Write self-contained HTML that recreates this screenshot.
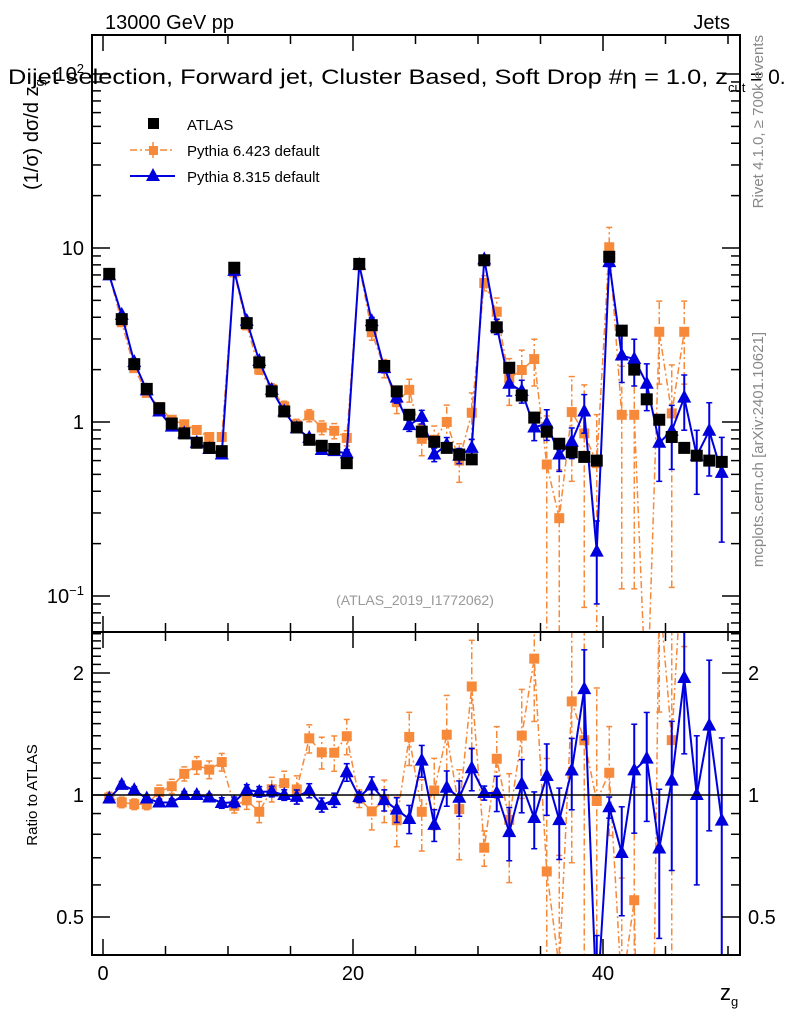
<!DOCTYPE html>
<html><head><meta charset="utf-8"><style>
html,body{margin:0;padding:0;background:#fff;width:786px;height:1024px;overflow:hidden}
svg{display:block}
svg text{font-family:"Liberation Sans",sans-serif}
</style></head><body>
<svg id="c" width="786" height="1024" xmlns="http://www.w3.org/2000/svg"></svg>
<script>
const binCenters=[0.5,1.5,2.5,3.5,4.5,5.5,6.5,7.5,8.5,9.5,10.5,11.5,12.5,13.5,14.5,15.5,16.5,17.5,18.5,19.5,20.5,21.5,22.5,23.5,24.5,25.5,26.5,27.5,28.5,29.5,30.5,31.5,32.5,33.5,34.5,35.5,36.5,37.5,38.5,39.5,40.5,41.5,42.5,43.5,44.5,45.5,46.5,47.5,48.5,49.5];
const atlas=[7.1,3.9,2.15,1.55,1.2,0.98,0.86,0.76,0.71,0.68,7.7,3.7,2.2,1.5,1.15,0.93,0.79,0.73,0.70,0.58,8.1,3.6,2.1,1.5,1.1,0.88,0.77,0.71,0.65,0.61,8.5,3.5,2.05,1.42,1.06,0.88,0.75,0.67,0.63,0.60,8.9,3.35,2.0,1.35,1.03,0.82,0.71,0.64,0.60,0.59];
const py8=[6.96,4.13,2.21,1.52,1.15,0.94,0.86,0.76,0.70,0.65,7.39,3.81,2.24,1.53,1.15,0.92,0.81,0.69,0.68,0.66,8.0,3.8,2.04,1.38,0.96,1.07,0.65,0.74,0.64,0.71,8.6,3.54,1.66,1.51,0.93,0.98,0.65,0.77,1.15,0.18,8.3,2.41,2.3,1.66,0.76,0.89,1.38,0.64,0.89,0.51];
const py6=[7.0,3.74,2.04,1.47,1.22,1.03,0.97,0.90,0.82,0.82,7.24,3.59,2.0,1.55,1.23,0.96,1.09,0.93,0.89,0.81,7.94,3.28,2.04,1.3,1.53,0.80,0.79,1.0,0.6,1.13,6.3,4.3,1.78,1.99,2.3,0.57,0.28,1.14,0.86,0.58,10.1,1.1,1.1,0.02,3.3,1.12,3.3,null,null,null];
const py8Err=[0.02,0.02,0.02,0.02,0.02,0.02,0.02,0.02,0.02,0.03,0.03,0.03,0.03,0.03,0.03,0.04,0.04,0.04,0.04,0.05,0.03,0.05,0.06,0.07,0.08,0.09,0.09,0.1,0.1,0.12,0.04,0.1,0.15,0.15,0.16,0.2,0.2,0.2,0.25,0.5,0.06,0.3,0.3,0.3,0.4,0.4,0.35,0.4,0.45,0.6];
const py6Err=[0.03,0.03,0.03,0.03,0.04,0.04,0.04,0.05,0.05,0.05,0.04,0.05,0.06,0.07,0.07,0.08,0.08,0.09,0.1,0.1,0.05,0.1,0.12,0.14,0.15,0.2,0.2,0.25,0.25,0.3,0.1,0.2,0.3,0.3,0.3,0.9,0.9,0.6,0.9,0.9,0.3,0.9,0.9,0.9,0.5,0.9,0.5,0,0,0];
const xTicks=[0,20,40];
const yTicks=[{v:10,l:"10"},{v:1,l:"1"}];
const rTicks=[{v:2,l:"2"},{v:1,l:"1"},{v:0.5,l:"0.5"}];

const S=document.getElementById('c');const NS='http://www.w3.org/2000/svg';
const L=92,R=740,T=35,M=632,B=955;
const X=v=>103+12.5*v;
const Y=v=>422-174*Math.log10(v);
const YR=v=>795-122*Math.log2(v);
function el(t,a,p){const e=document.createElementNS(NS,t);for(const k in a)e.setAttribute(k,a[k]);(p||S).appendChild(e);return e;}
const defs=el('defs',{});
const c1=el('clipPath',{id:'cm'},defs);el('rect',{x:L,y:T,width:R-L,height:M-T},c1);
const c2=el('clipPath',{id:'cr'},defs);el('rect',{x:L,y:M,width:R-L,height:B-M},c2);
const gm=el('g',{'clip-path':'url(#cm)'});
const gr=el('g',{'clip-path':'url(#cr)'});
const f1=el('rect',{x:L,y:T,width:R-L,height:M-T,fill:'none',stroke:'#000','stroke-width':2});

const f2=el('rect',{x:L,y:M,width:R-L,height:B-M,fill:'none',stroke:'#000','stroke-width':2});

for(let v=0;v<=50;v+=5){const big=v%20==0;const len=big?16:9;
 for(const [yb,yt] of [[M,T],[B,M]]){el('line',{x1:X(v),x2:X(v),y1:yb,y2:yb-len,stroke:'#000','stroke-width':1.5});el('line',{x1:X(v),x2:X(v),y1:yt,y2:yt+len,stroke:'#000','stroke-width':1.5});}}
xTicks.forEach(v=>{const t=el('text',{x:X(v),y:980,'font-size':20,'text-anchor':'middle'});t.textContent=v;
});
for(let d=-2;d<=2;d++)for(let m=1;m<10;m++){const v=m*Math.pow(10,d);const y=Y(v);if(y<T||y>M)continue;const len=m==1?18:9;
 el('line',{x1:L,x2:L+len,y1:y,y2:y,stroke:'#000','stroke-width':1.5});el('line',{x1:R,x2:R-len,y1:y,y2:y,stroke:'#000','stroke-width':1.5});}
yTicks.forEach(t=>{const e=el('text',{x:84,y:Y(t.v)+7,'font-size':20,'text-anchor':'end'});e.textContent=t.l;
});
let e=el('text',{x:84,y:Y(0.1)+7,'font-size':20,'text-anchor':'end'});e.innerHTML='10<tspan dy="-8" font-size="13">−1</tspan>';

e=el('text',{x:84,y:Y(100)+7,'font-size':20,'text-anchor':'end'});e.innerHTML='10<tspan dy="-8" font-size="13">2</tspan>';

for(let v=0.4;v<=2.55;v+=0.1){const y=YR(v);if(y<M||y>B)continue;const big=[0.5,1,2].some(q=>Math.abs(q-v)<1e-6);const len=big?18:9;
 el('line',{x1:L,x2:L+len,y1:y,y2:y,stroke:'#000','stroke-width':1.5});el('line',{x1:R,x2:R-len,y1:y,y2:y,stroke:'#000','stroke-width':1.5});}
rTicks.forEach(t=>{for(const [x,a] of [[84,'end'],[748,'start']]){const e=el('text',{x:x,y:YR(t.v)+7,'font-size':20,'text-anchor':a});e.textContent=t.l;
}});
el('line',{x1:L,x2:R,y1:YR(1),y2:YR(1),stroke:'#000','stroke-width':1.5});
function series(g,vals,errs,ratio,color,dash,marker,name){
 const pts=[];binCenters.forEach((c,i)=>{let v=vals[i];if(v==null)return;let r=ratio?v/atlas[i]:v;pts.push([X(c),ratio?YR(r):Y(r),r,errs[i]]);});
 const pl=el('polyline',{points:pts.map(p=>p[0]+','+p[1]).join(' '),fill:'none',stroke:color,'stroke-width':dash?1.5:2,'stroke-dasharray':dash||''},g);
 
 const F=ratio?YR:Y;
 pts.forEach(p=>{const lo=Math.max(p[2]*(1-p[3]),1e-3),hi=p[2]*(1+p[3]);const y1=F(lo),y2=F(hi);
  const eb=el('line',{x1:p[0],x2:p[0],y1:y1,y2:y2,stroke:color,'stroke-width':dash?1.5:2,'stroke-dasharray':dash||''},g);
  
  el('line',{x1:p[0]-3,x2:p[0]+3,y1:y1,y2:y1,stroke:color,'stroke-width':1.5},g);el('line',{x1:p[0]-3,x2:p[0]+3,y1:y2,y2:y2,stroke:color,'stroke-width':1.5},g);
  let m;if(marker=='sq'){m=el('rect',{x:p[0]-5,y:p[1]-5,width:10,height:10,fill:color},g);}
  else{m=el('polygon',{points:`${p[0]},${p[1]-8} ${p[0]-7},${p[1]+5} ${p[0]+7},${p[1]+5}`,fill:color},g);}
  });
}
series(gm,py6,py6Err,false,'#f7893a','7,3,2,3','sq','pythia6');
series(gm,py8,py8Err,false,'#0000dd',null,'tri','pythia8');
binCenters.forEach((c,i)=>{const m=el('rect',{x:X(c)-6,y:Y(atlas[i])-6,width:12,height:12,fill:'#000'},gm);
});
series(gr,py6,py6Err,true,'#f7893a','7,3,2,3','sq','pythia6-ratio');
series(gr,py8,py8Err,true,'#0000dd',null,'tri','pythia8-ratio');
const lg=el('g',{});
el('rect',{x:148,y:118,width:11,height:11,fill:'#000'},lg);
el('line',{x1:130,x2:175,y1:150,y2:150,stroke:'#f7893a','stroke-width':1.5,'stroke-dasharray':'7,3,2,3'},lg);
el('line',{x1:153,x2:153,y1:142,y2:158,stroke:'#f7893a','stroke-width':1.5},lg);
el('rect',{x:149,y:146,width:9,height:9,fill:'#f7893a'},lg);
el('line',{x1:130,x2:175,y1:176,y2:176,stroke:'#0000dd','stroke-width':2},lg);
el('polygon',{points:'153,168 146,181 160,181',fill:'#0000dd'},lg);
[['ATLAS',130],['Pythia 6.423 default',156],['Pythia 8.315 default',182]].forEach(([t,y])=>{const e=el('text',{x:187,y:y,'font-size':15},lg);e.textContent=t;
});
function txt(x,y,s,attrs,name,html){const e=el('text',Object.assign({x:x,y:y},attrs));if(html)e.innerHTML=s;else e.textContent=s;return e;}
txt(105,29,'13000 GeV pp',{'font-size':20},'energy-label');
txt(730,29,'Jets',{'font-size':20,'text-anchor':'end'},'process-label');
txt(8,84,'Dijet selection, Forward jet, Cluster Based, Soft Drop #η = 1.0, z',{'font-size':21,textLength:720,lengthAdjust:'spacingAndGlyphs'},'plot-title');
txt(728,92,'cut',{'font-size':13},'plot-title-subscript');
txt(750,84,'= 0.1',{'font-size':21},'plot-title-end');
txt(0,0,'(1/σ) dσ/d z<tspan font-size="13" dy="6">g</tspan>',{'font-size':20,transform:'translate(38,190) rotate(-90)'},'y-axis-title',true);
txt(0,0,'Ratio to ATLAS',{'font-size':15,'text-anchor':'middle',transform:'translate(37,795) rotate(-90)'},'ratio-axis-title');
txt(720,1000,'z<tspan font-size="13" dy="6">g</tspan>',{'font-size':22},'x-axis-title',true);
txt(0,0,'Rivet 4.1.0, ≥ 700k events',{'font-size':15,fill:'#888','text-anchor':'end',transform:'translate(763,35) rotate(-90)'},'rivet-label');
txt(0,0,'mcplots.cern.ch [arXiv:2401.10621]',{'font-size':15,fill:'#888','text-anchor':'end',transform:'translate(763,332) rotate(-90)'},'mcplots-label');
txt(415,605,'(ATLAS_2019_I1772062)',{'font-size':14,fill:'#999','text-anchor':'middle'},'analysis-id');
</script>
</body></html>
